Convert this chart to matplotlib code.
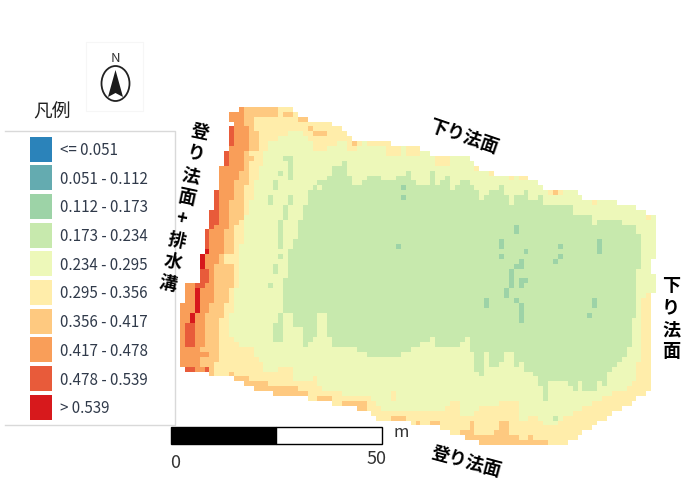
import numpy as np
import matplotlib
matplotlib.use("Agg")
import matplotlib.pyplot as plt
from matplotlib.colors import ListedColormap, BoundaryNorm
from matplotlib.patches import Rectangle, Ellipse

plt.rcParams['font.family'] = ['Noto Sans CJK JP', 'DejaVu Sans']

class_labels = ["<= 0.051", "0.051 - 0.112", "0.112 - 0.173", "0.173 - 0.234", "0.234 - 0.295",
                "0.295 - 0.356", "0.356 - 0.417", "0.417 - 0.478", "0.478 - 0.539", "> 0.539"]
class_colors = ["#2b83ba", "#64abb0", "#9dd3a7", "#c7e9ad", "#edf8b9",
                "#ffedaa", "#fec980", "#f99e59", "#e85b3a", "#d7191c"]

# raster, one line per cell row: "easting:class", "-" ends the row
rows = [
    "",
    "240:7 245:6 280:5 293:-",
    "230:7 245:6 278:5 285:6 293:5 298:-",
    "231:7 245:6 255:5 298:6 307:-",
    "232:7 245:6 255:5 333:-",
    "230:8 235:7 250:6 255:5 308:6 313:5 343:-",
    "230:8 235:7 250:6 260:5 290:4 303:5 313:6 328:5 347:-",
    "230:8 235:7 250:6 260:5 280:4 308:5 352:-",
    "230:8 235:7 248:6 260:5 270:4 310:5 337:4 348:5 352:6 357:5 360:4 367:5 390:-",
    "228:7 248:6 258:5 268:4 313:5 327:4 348:5 355:4 385:5 402:4 407:5 420:-",
    "225:8 231:7 245:6 250:5 265:4 385:5 402:4 407:5 422:4 432:-",
    "224:8 231:7 245:6 252:5 264:4 435:5 450:4 470:-",
    "224:8 230:7 245:6 250:5 262:4 435:5 450:4 472:-",
    "221:7 243:6 250:5 258:4 477:-",
    "220:7 240:6 250:5 256:4 492:-",
    "219:7 238:6 248:5 256:4 530:-",
    "218:7 236:6 247:5 255:4 537:-",
    "217:8 220:7 235:6 245:5 253:4 545:-",
    "215:8 220:7 235:6 245:5 253:4 577:-",
    "213:8 220:7 235:6 245:5 253:4 583:-",
    "212:8 220:7 231:6 243:5 250:4 615:-",
    "212:9 216:8 220:7 231:6 242:5 250:4 635:-",
    "210:8 220:7 230:6 242:5 248:4 645:-",
    "210:8 220:7 230:6 242:5 246:4 655:-",
    "209:8 218:7 230:6 240:5 246:4 655:-",
    "207:8 212:7 228:6 236:5 244:4 655:-",
    "206:8 211:7 226:6 235:5 243:4 655:-",
    "206:8 211:7 225:6 235:5 242:4 655:-",
    "206:8 211:7 225:6 235:5 242:4 655:-",
    "205:8 211:7 225:6 235:5 241:4 655:-",
    "206:9 211:7 224:6 235:5 241:4 655:-",
    "201:9 206:7 220:6 226:5 240:4 655:-",
    "201:9 206:7 220:6 226:5 240:4 652:-",
    "201:9 206:7 216:6 233:5 240:4 652:-",
    "202:8 207:7 215:6 233:5 240:4 652:-",
    "202:8 207:7 215:6 233:5 240:4 653:-",
    "202:8 207:7 215:6 233:5 240:4 653:-",
    "187:7 197:8 206:7 215:6 232:5 238:4 653:-",
    "187:7 197:9 201:7 215:6 230:5 235:4 653:-",
    "187:7 197:9 202:7 212:6 228:5 235:4 650:-",
    "183:7 197:9 202:7 212:6 228:5 235:4 650:-",
    "182:7 197:9 202:7 211:6 225:5 235:4 650:-",
    "182:7 197:9 202:7 210:6 225:5 232:4 650:-",
    "182:7 191:9 196:7 206:6 222:5 230:4 650:-",
    "182:7 191:9 196:7 206:6 220:5 230:4 650:-",
    "182:7 187:8 196:7 206:6 220:5 230:4 650:-",
    "182:7 187:8 197:7 206:6 220:5 230:4 650:-",
    "182:7 187:8 197:7 206:6 220:5 230:4 650:-",
    "182:7 187:8 197:7 206:6 220:5 233:4 650:-",
    "182:7 187:8 197:7 206:6 220:5 240:4 650:-",
    "182:7 201:6 220:5 248:4 650:-",
    "182:7 210:6 217:5 250:4 650:-",
    "182:7 200:6 217:5 258:4 650:-",
    "182:7 200:6 215:5 258:4 650:-",
    "182:8 196:7 206:8 210:6 216:5 262:4 650:-",
    "197:7 210:6 216:5 265:4 650:-",
    "212:6 235:5 272:4 650:-",
    "236:6 255:5 285:4 650:-",
    "245:6 260:5 285:4 650:-",
    "255:6 300:4 650:-",
    "280:4 650:-",
    "300:4 650:-",
    "320:4 650:-",
    "340:4 650:-",
    "360:4 650:-",
    "370:4 650:-",
    "380:4 650:-",
    "400:4 650:-",
    "430:4 650:-",
    "450:4 650:-",
    "480:4 650:-",
]

# core of class 3 by column: easting, top, bottom
green_cols = [(285,277,312),(290,250,313),(295,240,328),(300,220,330),(305,205,347),(310,193,342),
    (315,187,338),(320,190,316),(325,182,316),(330,175,340),(335,165,350),(340,165,350),(345,160,348),
    (350,178,347),(355,187,348),(360,187,352),(365,180,355),(370,175,357),(375,175,358),(380,175,358),
    (385,180,360),(390,180,360),(395,180,358),(400,175,357),(405,175,355),(410,170,352),(415,180,350),
    (420,187,347),(425,187,342),(430,170,337),(435,187,350),(440,180,350),(445,175,350),(450,192,350),
    (455,185,350),(460,181,342),(465,181,340),(470,187,352),(475,192,372),(480,203,375),(485,197,352),
    (490,192,367),(495,192,367),(500,187,362),(505,197,355),(510,208,352),(515,198,368),(520,198,365),
    (525,192,372),(530,203,373),(535,203,376),(540,198,385),(545,208,402),(550,208,380),(555,208,380),
    (560,208,382),(565,208,382),(570,208,388),(575,218,390),(580,218,380),(585,215,390),(590,215,392),
    (595,225,390),(600,220,380),(605,220,385),(610,220,372),(615,220,370),(620,220,365),(625,226,358),
    (630,226,350),(635,226,320),(640,237,272)]

# lower edge by column: easting, edge, top of class 6, top of class 5
bottom_cols = [(182,370,370,370),(190,371,371,371),(197,372,372,372),(205,374,374,374),(215,376,376,376),
    (225,377,377,377),(232,378,373,378),(240,382,375,382),(245,385,378,385),(250,388,380,350),
    (255,390,382,358),(260,392,383,365),(265,393,384,372),(270,394,385,373),(275,395,386,372),
    (280,397,386,370),(285,397,388,368),(290,397,386,368),(295,398,388,381),(300,398,390,381),
    (305,398,391,381),(310,400,400,381),(315,401,401,378),(320,402,397,388),(325,403,397,390),
    (330,404,397,391),(335,405,405,393),(340,406,406,393),(345,407,403,395),(350,408,403,396),
    (355,409,403,397),(360,410,403,397),(365,412,404,397),(370,414,414,398),(375,418,418,403),
    (380,420,420,408),(385,421,421,410),(390,422,422,410),(395,423,415,412),(400,423,415,410),
    (405,423,415,410),(410,423,423,413),(415,424,424,414),(420,424,420,414),(425,425,425,414),
    (430,426,420,414),(435,428,420,412),(440,430,430,410),(445,432,432,406),(450,434,434,403),
    (455,436,436,403),(460,438,433,418),(465,440,433,418),(470,441,420,418),(475,443,437,410),
    (480,444,437,405),(485,445,437,405),(490,446,436,405),(495,448,430,405),(500,448,420,402),
    (505,448,420,402),(510,448,437,403),(515,448,438,403),(520,448,440,420),(525,448,441,420),
    (530,448,438,415),(535,448,440,415),(540,448,440,420),(545,448,440,425),(550,448,448,425),
    (555,448,448,425),(560,448,448,420),(565,445,445,417),(570,442,442,415),(575,440,440,412),
    (580,437,437,410),(585,433,433,408),(590,430,430,405),(595,428,428,402),(600,422,422,400),
    (605,420,420,398),(610,417,417,396),(615,412,412,393),(620,410,410,392),(625,408,408,390),
    (630,405,405,385),(635,402,402,380),(640,398,398,365),(645,396,396,300),(650,390,390,293)]

# single odd cells: easting, northing, class
specks = [(291,160,3),(291,165,3),(291,170,3),(291,175,3),(291,180,3),(287,160,3),(282,175,3),(277,185,3),
    (277,190,3),(272,197,3),(272,202,3),(292,197,3),(292,202,3),(287,207,3),(287,212,3),(287,217,3),
    (282,222,3),(282,227,3),(282,232,3),(282,237,3),(282,242,3),(282,247,3),(282,257,3),(277,265,3),(277,270,3),
    (272,285,3),(282,315,3),(282,320,3),(282,325,3),(282,330,3),(282,335,3),(282,340,3),(277,325,3),(277,330,3),
    (277,335,3),(277,340,3),(320,186,3),(589,195,3),(556,417,3),
    (402,188,2),(402,199,2),(398,250,2),(516,228,2),(516,233,2),(502,245,2),(502,250,2),(502,255,2),(526,251,2),
    (560,250,2),(560,255,2),(555,263,2),(598,241,2),(598,246,2),(598,251,2),(520,264,2),(520,269,2),(515,268,2),
    (512,273,2),(512,278,2),(512,283,2),(512,288,2),(522,282,2),(527,282,2),(522,287,2),(506,292,2),(506,297,2),
    (516,302,2),(521,307,2),(521,312,2),(521,317,2),(521,322,2),(487,302,2),(487,307,2),(594,302,2),(594,307,2),
    (589,314,2),
    (437,160,5),(442,160,5),(447,160,5),(477,171,5),(482,171,5),(492,176,5),(497,176,5),(502,176,5),(507,176,5),
    (510,181,5),(519,181,5),(524,181,5),(545,189,5),(551,194,5),(560,194,5),(555,194,6),(579,195,5),(595,205,5),
    (650,217,5),(393,395,5),(393,400,5)]

scale_ticks = ["0", "50"]

x0, y0, cell = 180.0, 103.0, 4.9
ncols, nrows = 98, len(rows)
cols_x = x0 + cell * (np.arange(ncols) + 0.5)
rows_y = y0 + cell * (np.arange(nrows) + 0.5)
grid = np.full((nrows, ncols), -1)

for r, line in enumerate(rows):
    tokens = [t.split(":") for t in line.split()]
    for (a, cls), (b, _) in zip(tokens[:-1], tokens[1:]):
        grid[r, (cols_x >= float(a)) & (cols_x < float(b))] = int(cls)

bot_x = np.array([c[0] for c in bottom_cols])
green_x = np.array([c[0] for c in green_cols])
for c, x in enumerate(cols_x):
    if abs(green_x - x).min() <= 3:
        _, top, bot = green_cols[abs(green_x - x).argmin()]
        sel = (rows_y >= top) & (rows_y <= bot) & (grid[:, c] == 4)
        grid[sel, c] = 3
    _, edge, top6, top5 = bottom_cols[abs(bot_x - x).argmin()]
    if x >= 250:
        sel = (rows_y >= top5) & (rows_y < top6) & (grid[:, c] >= 0) & (grid[:, c] <= 5)
        grid[sel, c] = 5
        grid[(rows_y >= top6) & (grid[:, c] >= 0), c] = 6
    elif top6 < edge:
        grid[(rows_y >= top6) & (grid[:, c] >= 0), c] = 6
    grid[rows_y > edge, c] = -1

for sx, sy, cls in specks:
    r, c = abs(rows_y - sy).argmin(), abs(cols_x - sx).argmin()
    if grid[r, c] >= 0:
        grid[r, c] = cls

fig = plt.figure(figsize=(6.83, 4.81), dpi=100)
ax = fig.add_axes([0, 0, 1, 1])
ax.axis("off")

cmap = ListedColormap(class_colors)
norm = BoundaryNorm(np.arange(-0.5, 10.5), 10)
ax.imshow(np.ma.masked_less(grid, 0), cmap=cmap, norm=norm, interpolation="nearest", aspect="auto",
          extent=(x0, x0 + cell * ncols, y0 + cell * nrows, y0), zorder=1)
ax.set_xlim(0, 683)
ax.set_ylim(481, 0)

# legend
ax.plot([5, 175, 175, 5], [132, 132, 426, 426], color="#d9d9d9", lw=1, zorder=2)
for i, (lab, col) in enumerate(zip(class_labels, class_colors)):
    top = 137.5 + 28.7 * i
    ax.add_patch(Rectangle((29.5, top), 22, 25, fc=col, ec="none", zorder=3))
    ax.text(60, top + 13, lab, fontsize=10.9, color="#303a4a", va="center", ha="left", zorder=3)
ax.text(52, 112, "凡例", fontsize=13.5, color="#222222", va="center", ha="center")

# north arrow
ax.add_patch(Rectangle((86, 43), 57, 69, fc="none", ec="#f6f6f6", lw=0.8))
ax.add_patch(Ellipse((115.5, 84.5), 28, 35, fc="white", ec="#222222", lw=1.3))
ax.fill([115.5, 108, 115.5, 123], [71, 98, 94, 98], color="#1a1a1a", lw=0)
ax.text(115, 59, "N", fontsize=9.5, color="#333333", va="center", ha="center")

# scale bar
ax.add_patch(Rectangle((170.5, 427.5), 105.5, 17, fc="black", ec="black", lw=1))
ax.add_patch(Rectangle((276, 427.5), 106, 17, fc="white", ec="black", lw=1))
ax.text(401, 433, "m", fontsize=12, color="#333333", va="center", ha="center")
ax.text(175, 463, scale_ticks[0], fontsize=13, color="#333333", va="center", ha="center")
ax.text(377, 459, scale_ticks[1], fontsize=13, color="#333333", va="center", ha="center")

# slope labels
label_kw = dict(fontsize=13, color="black", va="center", ha="center", fontweight="bold", zorder=4)
ax.text(464, 137, "下り法面", rotation=-19, **label_kw)
ax.text(466, 462, "登り法面", rotation=-15, **label_kw)
ax.text(671, 319, "\n".join("下り法面"), rotation=0, linespacing=1.2, **label_kw)
ax.text(184, 208, "\n".join("登り法面+排水溝"), rotation=-12, linespacing=1.2, **label_kw)

fig.savefig("out.png", dpi=100)
